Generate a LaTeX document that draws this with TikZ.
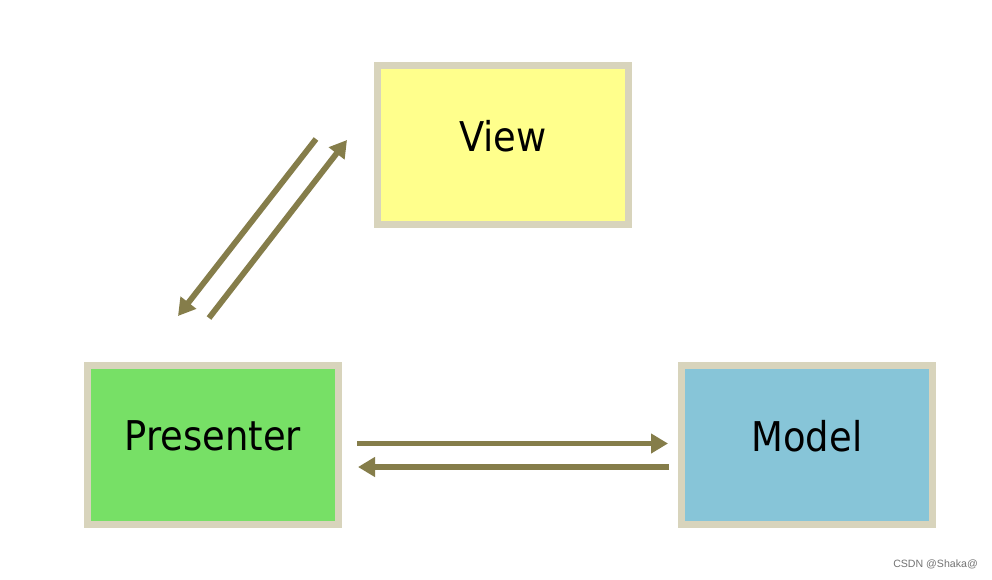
\documentclass[tikz,border=0pt]{standalone}
\usepackage{fontspec}
\setmainfont{DejaVu Sans Condensed}
\newfontfamily\wmfont{Liberation Sans}
\usetikzlibrary{arrows.meta,calc}
\definecolor{bordc}{HTML}{D8D4BC}
\definecolor{viewc}{HTML}{FFFF8C}
\definecolor{presc}{HTML}{77E066}
\definecolor{modc}{HTML}{87C5D8}
\definecolor{arrc}{HTML}{857D4A}
\tikzset{
  box/.style={draw=bordc, line width=7pt, minimum width=251pt, minimum height=159pt, inner sep=0pt, outer sep=0pt},
  lbl/.style={font=\fontsize{41}{45}\selectfont, text=black, inner sep=0pt},
  arr/.style={draw=arrc, line width=5.8pt, -{Triangle[length=17pt,width=19pt]}},
}
\begin{document}
\begin{tikzpicture}[x=1pt,y=1pt]
\useasboundingbox[fill=white] (0,0) rectangle (992,-579);
\node[box, fill=viewc] (view) at (503,-145) {};
\node[box, fill=presc] (pres) at (213,-445) {};
\node[box, fill=modc] (model) at (807,-445) {};
\node[lbl] (viewt) at ([yshift=9pt]view.center) {View};
\node[lbl] (prest) at ([yshift=9pt]pres.center) {Presenter};
\node[lbl] (modelt) at ([yshift=9pt]model.center) {Model};
% horizontal connectors
\coordinate (h1s) at (357,-443.5);
\coordinate (h1e) at (668,-443.5);
\coordinate (h2s) at (669,-467);
\coordinate (h2e) at (358,-467);
\draw[arr] (h1s) -- (h1e);
\draw[arr] (h2s) -- (h2e);
% diagonal connectors
\coordinate (d1s) at (316,-139);
\coordinate (d1e) at (178,-316);
\coordinate (d2s) at (209,-318);
\coordinate (d2e) at (347,-140);
\draw[arr] (d1s) -- (d1e);
\draw[arr] (d2s) -- (d2e);
\node[font=\wmfont\fontsize{10.6}{12}\selectfont, text=black!55, anchor=east, inner sep=0pt] (wm) at (978,-564) {CSDN @Shaka@};
\end{tikzpicture}
\end{document}
